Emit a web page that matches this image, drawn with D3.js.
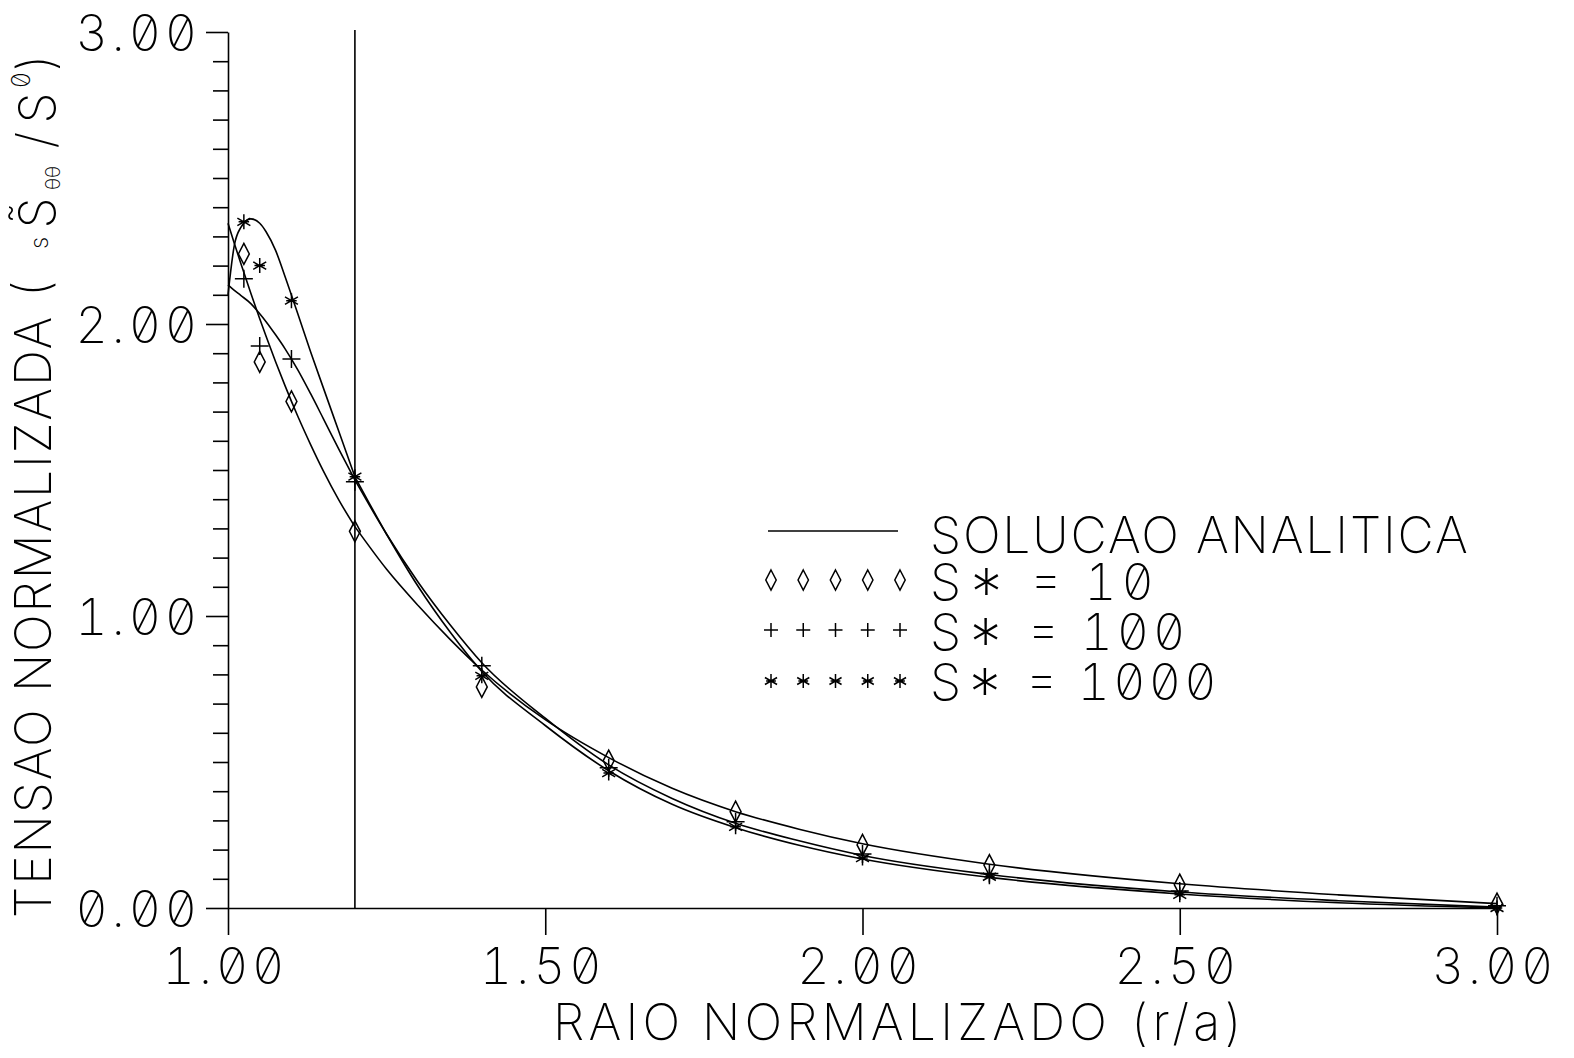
<!DOCTYPE html>
<html>
<head>
<meta charset="utf-8">
<script src="https://cdn.jsdelivr.net/npm/d3@7"></script>
<style>
  html, body { margin: 0; padding: 0; background: #fff; }
  svg { display: block; background: #fff; }
  text {
    font-family: Inter, "DejaVu Sans", sans-serif;
    font-weight: 200;
    font-feature-settings: "zero" 1, "tnum" 1;
    fill: #000;
  }
  .axis path, .axis line { stroke: #000; stroke-width: 1.6; }
  .curve { fill: none; stroke: #000; stroke-width: 1.6; }
  .mark { fill: none; stroke: #000; stroke-width: 1.5; }
</style>
</head>
<body>
<svg id="chart" width="1574" height="1058"></svg>
<script>
// ---- data -------------------------------------------------------------
// radial positions of the numerical results (r/a)
const sampleR   = [1.025, 1.05, 1.10, 1.20, 1.40, 1.60, 1.80, 2.00, 2.20, 2.50, 3.00];
// numerical hoop stress for each stiffness ratio S*
const numS10    = [2.24, 1.87, 1.735, 1.29, 0.757, 0.505, 0.33, 0.216, 0.147, 0.08, 0.015];
const numS100   = [2.155, 1.925, 1.88, 1.46, 0.83, 0.48, 0.295, 0.185, 0.118, 0.058, 0.008];
const numS1000  = [2.35, 2.20, 2.08, 1.477, 0.795, 0.462, 0.278, 0.171, 0.107, 0.045, 0.0];

// analytical solution, sampled along r/a
const analyticR     = [1.0, 1.01, 1.02, 1.036, 1.05, 1.06, 1.075, 1.09, 1.11, 1.13, 1.15, 1.175, 1.2,
                       1.25, 1.3, 1.35, 1.4, 1.5, 1.6, 1.7, 1.8, 1.9, 2.0, 2.2, 2.5, 2.75, 3.0];
const analyticS10   = [2.345, 2.276, 2.209, 2.105, 2.018, 1.958, 1.871, 1.788, 1.684, 1.588, 1.498, 1.396, 1.306,
                       1.16, 1.035, 0.92, 0.815, 0.645, 0.515, 0.41, 0.33, 0.27, 0.22, 0.15, 0.083, 0.045, 0.015];
const analyticS100  = [2.134, 2.115, 2.098, 2.07, 2.035, 2.008, 1.963, 1.915, 1.843, 1.762, 1.677, 1.57, 1.466,
                       1.28, 1.115, 0.97, 0.84, 0.65, 0.49, 0.375, 0.29, 0.23, 0.18, 0.115, 0.055, 0.025, 0.003];
const analyticS1000 = [2.10, 2.27, 2.33, 2.36, 2.345, 2.316, 2.252, 2.162, 2.035, 1.906, 1.783, 1.63, 1.477,
                       1.28, 1.10, 0.945, 0.81, 0.625, 0.47, 0.355, 0.275, 0.215, 0.168, 0.105, 0.048, 0.018, 0.0];

// radius of the plastic zone boundary
const plasticRadius = 1.2;

// axis ticks and labels
const xTickValues = [1.0, 1.5, 2.0, 2.5, 3.0];
const xTickLabels = ["1.00", "1.50", "2.00", "2.50", "3.00"];
const yTickValues = [0, 1, 2, 3];
const yTickLabels = ["0.00", "1.00", "2.00", "3.00"];
const yMinorValues = d3.range(0, 31).filter(i => i % 10 !== 0).map(i => i / 10);

const legendValues = ["10", "100", "1000"];
const legendTitle = "SOLUCAO ANALITICA";

// ---- chart ------------------------------------------------------------
const svg = d3.select("#chart");
const x = d3.scaleLinear().domain([1, 3]).range([228, 1497]);
const y = d3.scaleLinear().domain([0, 3]).range([908, 32]);

const FS = 50;           // plotter lettering size
const PITCH = 31.4;      // character pitch of the lettering

// y axis: minor ticks
svg.append("g").attr("class", "axis")
  .attr("transform", `translate(${x(1)},0)`)
  .call(d3.axisLeft(y).tickValues(yMinorValues).tickSize(15).tickFormat("").tickSizeOuter(0))
  .call(g => g.select(".domain").remove());

// y axis: major ticks and labels
const yAxisG = svg.append("g").attr("class", "axis")
  .attr("transform", `translate(${x(1)},0)`)
  .call(d3.axisLeft(y).tickValues(yTickValues).tickSize(22).tickPadding(9)
        .tickFormat((d, i) => yTickLabels[i]).tickSizeOuter(0));
yAxisG.attr("font-size", null).attr("font-family", null);
yAxisG.selectAll("text")
  .attr("font-size", FS).attr("dy", "18px")
  .attr("textLength", PITCH * 4 - 4).attr("lengthAdjust", "spacing");

// x axis
const xAxisG = svg.append("g").attr("class", "axis")
  .attr("transform", `translate(0,${y(0)})`)
  .call(d3.axisBottom(x).tickValues(xTickValues).tickSize(27)
        .tickFormat((d, i) => xTickLabels[i]).tickSizeOuter(0));
xAxisG.attr("font-size", null).attr("font-family", null);
xAxisG.selectAll("text")
  .attr("font-size", FS).attr("y", 76).attr("dy", null).attr("dx", -5)
  .attr("textLength", PITCH * 4 - 4).attr("lengthAdjust", "spacing");

// plastic zone boundary
svg.append("line").attr("class", "curve")
  .attr("x1", x(plasticRadius)).attr("x2", x(plasticRadius))
  .attr("y1", y(0)).attr("y2", y(3) - 2);

// analytical curves (slope changes at the plastic boundary)
const lineGen = d3.line().x(d => x(d[0])).y(d => y(d[1])).curve(d3.curveMonotoneX);
const kSplit = analyticR.indexOf(plasticRadius);
[analyticS10, analyticS100, analyticS1000].forEach(vals => {
  const pts = analyticR.map((r, i) => [r, vals[i]]);
  [pts.slice(0, kSplit + 1), pts.slice(kSplit)].forEach(seg => {
    svg.append("path").attr("class", "curve").attr("d", lineGen(seg));
  });
});

// marker shapes
const markerPath = {
  diamond: s => `M0,${-s}L${s * 0.52},0L0,${s}L${-s * 0.52},0Z`,
  plus: s => `M${-s},0H${s}M0,${-s}V${s}`,
  star: s => {
    const u = s * Math.cos(Math.PI / 6), t = s / 2;
    return `M0,${-s}V${s}M${-u},${-t}L${u},${t}M${-u},${t}L${u},${-t}M${-s * 0.7},0H${s * 0.7}`;
  }
};
const series = [
  { vals: numS10,   shape: "diamond", size: 10.5 },
  { vals: numS100,  shape: "plus",    size: 9 },
  { vals: numS1000, shape: "star",    size: 7.5 }
];
series.forEach(s => {
  svg.append("g").selectAll("path")
    .data(sampleR.map((r, i) => [r, s.vals[i]]))
    .join("path").attr("class", "mark")
    .attr("transform", d => `translate(${x(d[0])},${y(d[1])})`)
    .attr("d", markerPath[s.shape](s.size));
});

// legend
const legend = svg.append("g");
legend.append("line").attr("class", "curve")
  .attr("x1", 768).attr("x2", 898).attr("y1", 531).attr("y2", 531);
legend.append("text")
  .attr("x", 930).attr("y", 553).attr("font-size", FS)
  .attr("textLength", PITCH * legendTitle.length + 4).attr("lengthAdjust", "spacing")
  .text(legendTitle);

const legendRows = [580, 630, 681];
const legendBase = [600, 650, 700];
series.forEach((s, k) => {
  legend.append("g").selectAll("path")
    .data(d3.range(5))
    .join("path").attr("class", "mark")
    .attr("transform", i => `translate(${771 + i * 32.25},${legendRows[k]})`)
    .attr("d", markerPath[s.shape](s.shape === "diamond" ? 10 : 7));

  const label = `S* = ${legendValues[k]}`;
  const t = legend.append("text")
    .attr("x", 930).attr("y", legendBase[k]).attr("font-size", FS)
    .attr("textLength", PITCH * label.length + 4).attr("lengthAdjust", "spacing");
  t.append("tspan").text("S");
  t.append("tspan").attr("font-size", 64).attr("dy", 15).text("*");
  t.append("tspan").attr("dy", -15).text(` = ${legendValues[k]}`);
});

// x axis title
svg.append("text")
  .attr("x", 553).attr("y", 1040).attr("font-size", FS)
  .attr("textLength", PITCH * 22).attr("lengthAdjust", "spacing")
  .text("RAIO NORMALIZADO (r/a)");

// y axis title (rotated, reads bottom to top)
const yTitle = svg.append("g").attr("transform", "translate(51,918) rotate(-90)");
yTitle.append("text")
  .attr("x", 0).attr("y", 0).attr("font-size", FS)
  .attr("textLength", 32.5 * 20 - 12).attr("lengthAdjust", "spacing")
  .text("TENSAO NORMALIZADA (");
const yTitleParts = [
  { t: "s",        at: 675, dy: -3,  fs: 24 },
  { t: "S\u0303",  at: 705, dy: 4,   fs: FS },
  { t: "\u03b8\u03b8", at: 740, dy: 9, fs: 20 },
  { t: "/",        at: 778, dy: 2,   fs: FS },
  { t: "S",        at: 810, dy: 4,   fs: FS },
  { t: "0",        at: 838, dy: -21, fs: 26 },
  { t: ")",        at: 856, dy: 2,   fs: FS }
];
yTitleParts.forEach(p => {
  yTitle.append("text")
    .attr("x", p.at).attr("y", p.dy).attr("font-size", p.fs)
    .attr("text-anchor", "middle").text(p.t);
});
</script>
</body>
</html>
